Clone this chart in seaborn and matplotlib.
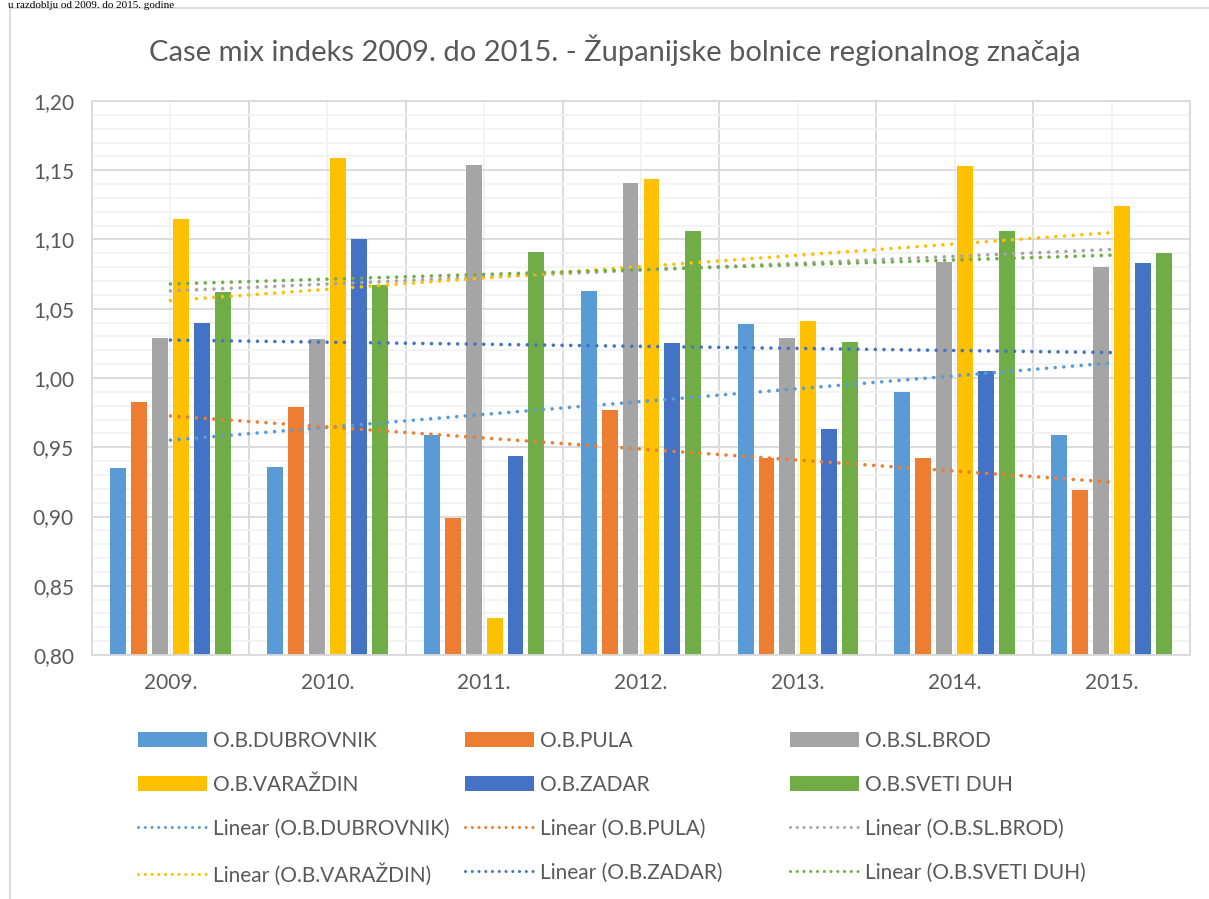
import matplotlib
matplotlib.use('Agg')
import matplotlib.pyplot as plt
import seaborn as sns
import numpy as np
import pandas as pd
from matplotlib.patches import Patch, Rectangle
from matplotlib.lines import Line2D
from matplotlib.ticker import MultipleLocator, FuncFormatter

years = ['2009.', '2010.', '2011.', '2012.', '2013.', '2014.', '2015.']
hospitals = ['O.B.DUBROVNIK', 'O.B.PULA', 'O.B.SL.BROD', 'O.B.VARAŽDIN', 'O.B.ZADAR', 'O.B.SVETI DUH']
dubrovnik = [0.935, 0.936, 0.959, 1.063, 1.039, 0.990, 0.959]
pula = [0.983, 0.979, 0.899, 0.977, 0.942, 0.942, 0.919]
sl_brod = [1.029, 1.028, 1.154, 1.141, 1.029, 1.084, 1.080]
varazdin = [1.115, 1.159, 0.827, 1.144, 1.041, 1.153, 1.124]
zadar = [1.040, 1.100, 0.944, 1.025, 0.963, 1.005, 1.083]
sveti_duh = [1.062, 1.067, 1.091, 1.106, 1.026, 1.106, 1.090]
colors = ['#5B9BD5', '#ED7D31', '#A5A5A5', '#FFC000', '#4472C4', '#70AD47']
title = 'Case mix indeks 2009. do 2015. - Županijske bolnice regionalnog značaja'
top_text = 'u razdoblju od 2009. do 2015. godine'

series = [dubrovnik, pula, sl_brod, varazdin, zadar, sveti_duh]
df = pd.DataFrame({
    'year': [y for s in series for y in years],
    'hospital': [h for h, s in zip(hospitals, series) for _ in s],
    'value': [v for s in series for v in s],
})

sns.set_style('white')
plt.rcParams['font.family'] = ['Lato', 'DejaVu Sans']
txt = '#595959'

fig = plt.figure(figsize=(12.09, 8.99), dpi=100)
ax = fig.add_axes([92/1209, 1-655/899, (1190-92)/1209, (655-101)/899])

sns.barplot(data=df, x='year', y='value', hue='hospital', hue_order=hospitals,
            order=years, palette=colors, saturation=1, width=0.8, gap=0.24, linewidth=0,
            legend=False, ax=ax, zorder=2)

xs = np.arange(len(years))
for s, c in zip(series, colors):
    sns.regplot(x=xs, y=np.array(s), scatter=False, ci=None, truncate=True, ax=ax,
                line_kws=dict(color=c, lw=2.6, ls=(0, (0.01, 2.4)),
                              dash_capstyle='round', zorder=3))

ax.set_xlim(-0.5, len(years)-0.5)
ax.set_ylim(0.80, 1.20)
ax.yaxis.set_major_locator(MultipleLocator(0.05))
ax.yaxis.set_minor_locator(MultipleLocator(0.01))
ax.yaxis.set_major_formatter(FuncFormatter(lambda v, p: f'{v:.2f}'.replace('.', ',')))
ax.set_xticks(xs)
ax.set_xticklabels(years)
ax.set_xticks(np.arange(-0.5, len(years), 1.0), minor=True)
ax.set_axisbelow(True)
ax.yaxis.grid(True, which='major', color='#D9D9D9', lw=1.3)
ax.yaxis.grid(True, which='minor', color='#F2F2F2', lw=1.3)
ax.xaxis.grid(True, which='minor', color='#D9D9D9', lw=1.3)
ax.xaxis.grid(True, which='major', color='#F2F2F2', lw=1.3)
ax.tick_params(which='both', length=0)
ax.tick_params(axis='x', labelsize=15, labelcolor=txt, pad=13)
ax.tick_params(axis='y', labelsize=15, labelcolor=txt, pad=13)
ax.set_xlabel('')
ax.set_ylabel('')
for sp in ax.spines.values():
    sp.set_color('#D9D9D9')
    sp.set_linewidth(1.3)

fig.text(615/1209, 1-50/899, title, ha='center', va='center', fontsize=21, color=txt)
fig.text(8/1209, 1-0.5/899, top_text, ha='left', va='top', fontsize=8,
         family=['Liberation Serif', 'DejaVu Serif'], color='black')

fig.patches.append(Rectangle((10/1209, -0.01), 1.2, 1-8/899+0.01, transform=fig.transFigure,
                             fill=False, edgecolor='#D9D9D9', lw=1.3))

# legends: three columns
col_x = [138, 465, 790]
for ci in range(3):
    handles = [
        Patch(facecolor=colors[ci], edgecolor='none'),
        Patch(facecolor=colors[ci+3], edgecolor='none'),
        Line2D([0], [0], color=colors[ci], lw=2.2, ls=(0, (0.01, 2.2)), dash_capstyle='round'),
        Line2D([0], [0], color=colors[ci+3], lw=2.2, ls=(0, (0.01, 2.2)), dash_capstyle='round'),
    ]
    labels = [hospitals[ci], hospitals[ci+3],
              f'Linear ({hospitals[ci]})', f'Linear ({hospitals[ci+3]})']
    leg = fig.legend(handles, labels, loc='upper left',
                     bbox_to_anchor=(col_x[ci]/1209, 1-731/899), frameon=False,
                     fontsize=15, labelcolor=txt, handlelength=3.3, handleheight=0.75,
                     handletextpad=0.3, labelspacing=1.15, borderpad=0, borderaxespad=0)

fig.savefig('out.png', dpi=100)
